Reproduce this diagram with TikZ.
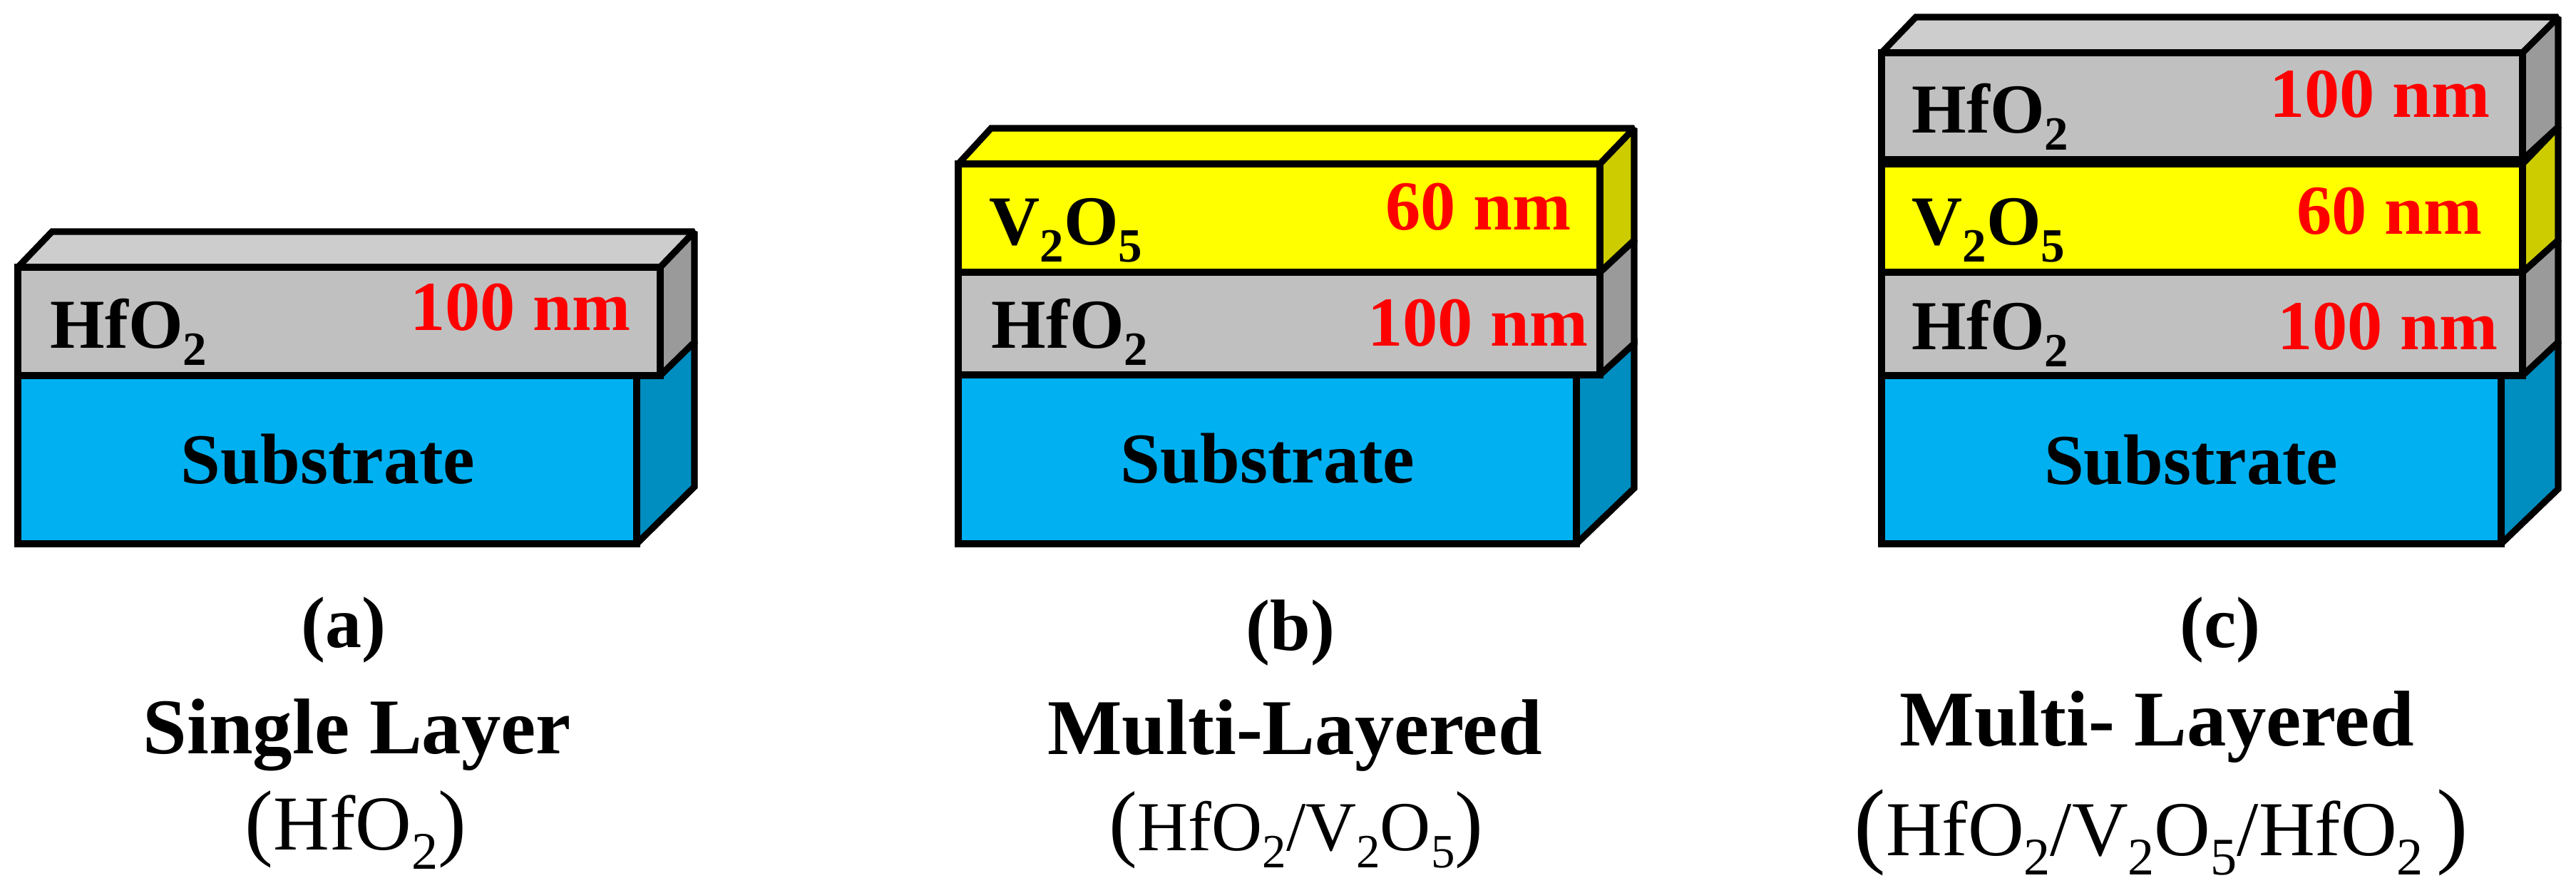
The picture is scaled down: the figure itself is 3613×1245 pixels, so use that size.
\documentclass[tikz,border=0pt]{standalone}
\usepackage{fontspec}
\setmainfont{Liberation Serif}
\usepackage{tikz}
\definecolor{subfront}{RGB}{0,176,240}
\definecolor{subside}{RGB}{0,141,192}
\definecolor{hffront}{RGB}{192,192,192}
\definecolor{hftop}{RGB}{205,205,205}
\definecolor{hfside}{RGB}{154,154,154}
\definecolor{vfront}{RGB}{255,255,0}
\definecolor{vside}{RGB}{204,204,0}
\newcommand{\lowd}[1]{\raisebox{-0.25em}{\scalebox{0.68}{#1}}}
\newcommand{\hfo}{HfO\lowd{2}}
\newcommand{\vo}{V\lowd{2}O\lowd{5}}
\newcommand{\openp}[1]{{\fontsize{#1}{#1}\selectfont(}}
\newcommand{\closep}[1]{{\fontsize{#1}{#1}\selectfont)}}
\tikzset{
  edge/.style={draw=black,line width=2.6pt,miter limit=2},
  material/.style={font=\fontsize{28}{32}\selectfont\bfseries,inner sep=0pt,anchor=base west},
  thick/.style={font=\fontsize{28}{32}\selectfont\bfseries,text=red,inner sep=0pt,anchor=base east},
  subname/.style={font=\fontsize{28.5}{32}\selectfont\bfseries,inner sep=0pt,anchor=base},
  panel/.style={font=\fontsize{29}{32}\selectfont\bfseries,inner sep=0pt,anchor=base},
  kind/.style={font=\fontsize{31.5}{36}\selectfont\bfseries,inner sep=0pt,anchor=base},
  stack/.style={font=\fontsize{31}{36}\selectfont,inner sep=0pt,anchor=base},
  stacksmall/.style={stack,font=\fontsize{28}{36}\selectfont}
}
\begin{document}
\begin{tikzpicture}[x=0.01cm,y=-0.01cm]
        \useasboundingbox (0,0) rectangle (3613,1245);

        % panel a
        \path[fill=subside,edge] (893,527) -- (974,480) -- (974,683) -- (893,763) -- cycle;
        \path[fill=subfront,edge] (25,527) rectangle (893,763);
        \path[fill=hftop,edge] (25,375) -- (73,325) -- (974,325) -- (926,375) -- cycle;
        \path[fill=hfside,edge] (926,375) -- (974,325) -- (974,480) -- (926,527) -- cycle;
        \path[fill=hffront,edge] (25,375) rectangle (926,527);
        \node[material] (a1) at (70,488) {\hfo};
        \node[thick] (a2) at (885,463) {100 nm};
        \node[subname] (a3) at (460,678) {Substrate};
        \node[panel] (a4) at (482,908) {(a)};
        \node[kind] (a5) at (501,1057) {Single Layer};
        \node[stack] (a6) at (499,1192) {\openp{34}\hfo\closep{34}};

        % panel b
        \path[fill=subside,edge] (2211,526) -- (2292,482) -- (2292,685) -- (2211,763) -- cycle;
        \path[fill=subfront,edge] (1344,526) rectangle (2211,763);
        \path[fill=hfside,edge] (2244,382) -- (2292,337) -- (2292,482) -- (2244,526) -- cycle;
        \path[fill=hffront,edge] (1344,382) rectangle (2244,526);
        \path[fill=vfront,edge] (1344,230) -- (1390,180) -- (2292,180) -- (2244,230) -- cycle;
        \path[fill=vside,edge] (2244,230) -- (2292,180) -- (2292,337) -- (2244,382) -- cycle;
        \path[fill=vfront,edge] (1344,230) rectangle (2244,382);
        \node[material] (b1) at (1390,488) {\hfo};
        \node[thick] (b2) at (2228,485) {100 nm};
        \node[material] (b3) at (1387,343) {\vo};
        \node[thick] (b4) at (2204,322) {60 nm};
        \node[subname] (b5) at (1778,677) {Substrate};
        \node[panel] (b6) at (1810,912) {(b)};
        \node[kind] (b7) at (1816,1058) {Multi-Layered};
        \node[stacksmall] (b8) at (1818,1193) {\openp{34}\hfo/\vo\closep{34}};

        % panel c
        \path[fill=subside,edge] (3508,527) -- (3588,480) -- (3588,686) -- (3508,763) -- cycle;
        \path[fill=subfront,edge] (2639,527) rectangle (3508,763);
        \path[fill=hfside,edge] (3538,382) -- (3588,337) -- (3588,480) -- (3538,527) -- cycle;
        \path[fill=hffront,edge] (2639,382) rectangle (3538,527);
        \path[fill=vside,edge] (3538,230) -- (3588,178) -- (3588,337) -- (3538,382) -- cycle;
        \path[fill=vfront,edge] (2639,230) rectangle (3538,382);
        \path[fill=hftop,edge] (2639,74) -- (2687,24) -- (3588,24) -- (3538,74) -- cycle;
        \path[fill=hfside,edge] (3538,74) -- (3588,24) -- (3588,178) -- (3538,224) -- cycle;
        \path[fill=hffront,edge] (2639,74) rectangle (3538,224);
        \node[material] (c1) at (2681,490) {\hfo};
        \node[thick] (c2) at (3504,490) {100 nm};
        \node[material] (c3) at (2681,343) {\vo};
        \node[thick] (c4) at (3482,328) {60 nm};
        \node[material] (c5) at (2681,186) {\hfo};
        \node[thick] (c6) at (3493,164) {100 nm};
        \node[subname] (c7) at (3073,679) {Substrate};
        \node[panel] (c8) at (3114,908) {(c)};
        \node[kind] (c9) at (3025,1046) {Multi- Layered};
        \node[stack] (c10) at (3031,1200) {\openp{38}\hfo/\vo/\hfo\,\closep{38}};
      \end{tikzpicture}
\end{document}
